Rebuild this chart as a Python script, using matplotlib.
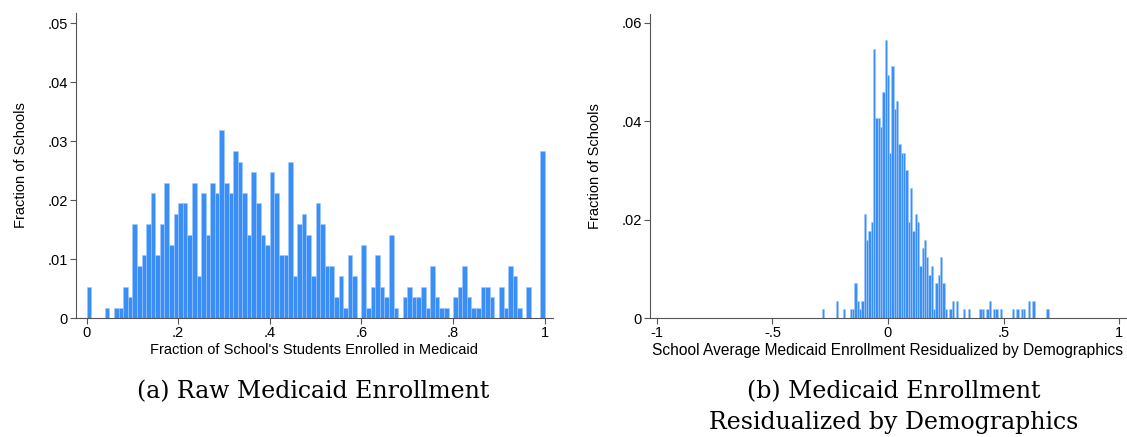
import numpy as np
import matplotlib.pyplot as plt

# school counts per bin (fraction = count / number of schools)
n_schools = 566

# left panel: raw enrollment share, 100 bins of width .01 on [0, 1]
raw_counts = [3, 0, 0, 0, 1, 0, 1, 1, 3, 2,
              9, 5, 6, 9, 12, 6, 9, 13, 7, 10,
              11, 11, 8, 13, 4, 12, 8, 13, 12, 18,
              13, 12, 16, 15, 12, 8, 14, 11, 8, 7,
              14, 12, 6, 6, 15, 4, 9, 10, 8, 4,
              11, 9, 5, 5, 2, 4, 1, 6, 4, 0,
              7, 1, 3, 6, 3, 2, 8, 1, 0, 2,
              3, 2, 2, 3, 1, 5, 2, 1, 1, 0,
              2, 3, 5, 2, 1, 1, 3, 3, 2, 0,
              3, 1, 5, 4, 1, 0, 3, 0, 0, 16]
raw_start = 0.0
raw_width = 0.01

# right panel: residualized enrollment, bins of width .01 starting at -.285
res_counts = [1, 0, 0, 0, 0, 0, 2, 0, 0, 1,
              0, 0, 1, 1, 4, 2, 1, 2, 12, 9,
              10, 11, 31, 23, 23, 22, 26, 32, 28, 19,
              29, 24, 25, 20, 19, 19, 17, 11, 15, 10,
              12, 11, 6, 8, 9, 7, 5, 6, 1, 4,
              5, 7, 4, 1, 0, 1, 2, 0, 2, 0,
              0, 1, 0, 1, 0, 0, 0, 0, 1, 1,
              0, 1, 2, 0, 1, 1, 0, 1, 0, 0,
              0, 0, 1, 0, 1, 0, 1, 1, 0, 2,
              0, 2, 0, 0, 0, 0, 0, 1]
res_start = -0.285
res_width = 0.01

raw_xticks = [0, 0.2, 0.4, 0.6, 0.8, 1]
raw_xticklabels = ["0", ".2", ".4", ".6", ".8", "1"]
raw_yticks = [0, 0.01, 0.02, 0.03, 0.04, 0.05]
raw_yticklabels = ["0", ".01", ".02", ".03", ".04", ".05"]

res_xticks = [-1, -0.5, 0, 0.5, 1]
res_xticklabels = ["-1", "-.5", "0", ".5", "1"]
res_yticks = [0, 0.02, 0.04, 0.06]
res_yticklabels = ["0", ".02", ".04", ".06"]

plt.rcParams['font.family'] = ['Liberation Sans', 'DejaVu Sans']

bar_color = '#3a8ef7'
edge_color = '#a3cafb'
axis_color = '#555555'

fig = plt.figure(figsize=(11.27, 4.37), dpi=100)
ax1 = fig.add_axes([76/1127, 1 - 318/437, (553 - 76)/1127, (318 - 13)/437])
ax2 = fig.add_axes([650/1127, 1 - 318/437, (1126 - 650)/1127, (318 - 14)/437])


def draw_hist(ax, counts, start, width):
    counts = np.array(counts, dtype=float)
    edges = start + width*np.arange(len(counts))
    ax.bar(edges, counts/n_schools, width=width, align='edge',
           color=bar_color, edgecolor=edge_color, linewidth=0.4)


draw_hist(ax1, raw_counts, raw_start, raw_width)
draw_hist(ax2, res_counts, res_start, res_width)

ax1.set_xlim(-0.023, 1.018)
ax1.set_ylim(0, 0.0517)
ax2.set_xlim(-1.03, 1.03)
ax2.set_ylim(0, 0.0618)

for ax, xt, xl, yt, yl in [(ax1, raw_xticks, raw_xticklabels, raw_yticks, raw_yticklabels),
                           (ax2, res_xticks, res_xticklabels, res_yticks, res_yticklabels)]:
    ax.set_xticks(xt)
    ax.set_xticklabels(xl)
    ax.set_yticks(yt)
    ax.set_yticklabels(yl)
    for s in ['top', 'right']:
        ax.spines[s].set_visible(False)
    for s in ['left', 'bottom']:
        ax.spines[s].set_color(axis_color)
        ax.spines[s].set_linewidth(0.8)
    ax.tick_params(length=4, width=0.8, color=axis_color, labelsize=10.5, pad=2)
    ax.set_ylabel("Fraction of Schools", fontsize=10.5, labelpad=14)

ax1.set_xlabel("Fraction of School's Students Enrolled in Medicaid", fontsize=10.5, labelpad=2)
ax2.set_xlabel("School Average Medicaid Enrollment Residualized by Demographics", fontsize=11.2, labelpad=2)

fig.text(313/1127, 1 - 392/437, "(a) Raw Medicaid Enrollment", family='DejaVu Serif',
         fontsize=17, ha='center', va='center')
fig.text(894/1127, 1 - 392/437, "(b) Medicaid Enrollment", family='DejaVu Serif',
         fontsize=17, ha='center', va='center')
fig.text(894/1127, 1 - 423/437, "Residualized by Demographics", family='DejaVu Serif',
         fontsize=17, ha='center', va='center')

fig.savefig("out.png", dpi=100)
